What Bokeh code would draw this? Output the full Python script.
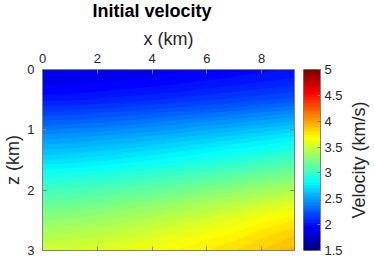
import numpy as np
from bokeh.plotting import figure
from bokeh.layouts import row
from bokeh.models import Range1d, LinearAxis, FixedTicker, LinearColorMapper, CustomJSTickFormatter
from bokeh.embed import file_html
from bokeh.resources import INLINE

# sample positions (km)
x_km = [0.0, 1.15, 2.3, 3.45, 4.6, 5.75, 6.9, 8.05, 9.2]
z_km = [0.0, 0.125, 0.25, 0.375, 0.5, 0.625, 0.75, 0.875, 1.0, 1.125, 1.25, 1.375, 1.5,
        1.625, 1.75, 1.875, 2.0, 2.125, 2.25, 2.375, 2.5, 2.625, 2.75, 2.875, 3.0]

# velocity (km/s) read down each x column (top to bottom)
vel_c0 = [1.87, 1.89, 1.93, 1.97, 2.03, 2.11, 2.20, 2.28, 2.37, 2.46, 2.54, 2.62, 2.70, 2.79, 2.88, 2.96, 3.03, 3.10, 3.17, 3.24, 3.30, 3.36, 3.41, 3.47, 3.52]
vel_c1 = [1.88, 1.90, 1.94, 1.98, 2.04, 2.12, 2.21, 2.30, 2.39, 2.48, 2.56, 2.64, 2.72, 2.81, 2.90, 2.98, 3.05, 3.12, 3.19, 3.26, 3.32, 3.38, 3.43, 3.49, 3.54]
vel_c2 = [1.89, 1.91, 1.95, 2.00, 2.06, 2.14, 2.24, 2.32, 2.41, 2.51, 2.59, 2.67, 2.75, 2.84, 2.93, 3.01, 3.09, 3.16, 3.23, 3.30, 3.36, 3.42, 3.47, 3.53, 3.58]
vel_c3 = [1.90, 1.93, 1.97, 2.02, 2.08, 2.17, 2.26, 2.35, 2.45, 2.54, 2.62, 2.71, 2.79, 2.88, 2.97, 3.05, 3.13, 3.20, 3.28, 3.35, 3.41, 3.47, 3.52, 3.58, 3.62]
vel_c4 = [1.92, 1.95, 1.99, 2.04, 2.11, 2.20, 2.30, 2.39, 2.48, 2.58, 2.67, 2.75, 2.83, 2.92, 3.01, 3.10, 3.17, 3.25, 3.33, 3.40, 3.47, 3.53, 3.58, 3.63, 3.68]
vel_c5 = [1.94, 1.97, 2.01, 2.07, 2.14, 2.23, 2.33, 2.43, 2.53, 2.62, 2.71, 2.80, 2.88, 2.97, 3.06, 3.15, 3.23, 3.31, 3.39, 3.46, 3.53, 3.59, 3.64, 3.69, 3.73]
vel_c6 = [1.96, 1.99, 2.04, 2.10, 2.17, 2.26, 2.37, 2.47, 2.57, 2.67, 2.76, 2.85, 2.93, 3.02, 3.11, 3.20, 3.28, 3.37, 3.45, 3.53, 3.59, 3.65, 3.70, 3.75, 3.79]
vel_c7 = [1.98, 2.02, 2.06, 2.13, 2.20, 2.30, 2.41, 2.51, 2.62, 2.72, 2.81, 2.90, 2.99, 3.08, 3.17, 3.26, 3.35, 3.43, 3.52, 3.60, 3.67, 3.73, 3.78, 3.82, 3.86]
vel_c8 = [2.00, 2.04, 2.09, 2.16, 2.24, 2.34, 2.45, 2.56, 2.67, 2.77, 2.87, 2.96, 3.05, 3.14, 3.23, 3.32, 3.41, 3.50, 3.59, 3.67, 3.74, 3.80, 3.85, 3.89, 3.93]

x_ticks = [0, 2, 4, 6, 8]
z_ticks = [0, 1, 2, 3]
cbar_ticks = [1.5, 2, 2.5, 3, 3.5, 4, 4.5, 5]
v_low, v_high = 1.5, 5.0
x_max, z_max = 9.2, 3.0
n_colors = 64

def jet(n):
    t = np.linspace(0, 1, n)
    r = np.clip(1.5 - np.abs(4 * t - 3), 0, 1)
    g = np.clip(1.5 - np.abs(4 * t - 2), 0, 1)
    b = np.clip(1.5 - np.abs(4 * t - 1), 0, 1)
    return ["#%02x%02x%02x" % (int(round(a * 255)), int(round(c * 255)), int(round(d * 255)))
            for a, c, d in zip(r, g, b)]

palette = jet(n_colors)
mapper = LinearColorMapper(palette=palette, low=v_low, high=v_high)
levels = np.linspace(v_low, v_high, n_colors + 1)

cols = [vel_c0, vel_c1, vel_c2, vel_c3, vel_c4, vel_c5, vel_c6, vel_c7, vel_c8]
grid = np.array(cols).T  # rows = z, cols = x
dx = x_km[1] - x_km[0]
dz = z_km[1] - z_km[0]

FONT = "Liberation Sans"
TXT = "#262626"
AX = "#808080"
SHIFT = 6            # blank strip above the title that is pulled off the top of the page
H = 263 + SHIFT
TOP = 69 + SHIFT

p = figure(width=300, height=H, x_range=Range1d(0, x_max), y_range=Range1d(z_max, 0),
           x_axis_location="above", output_backend="svg", toolbar_location=None,
           min_border_left=37, min_border_top=TOP, min_border_right=6, min_border_bottom=6,
           margin=(-SHIFT, 0, 0, 0))
# underlay (hides hairline seams), then filled colour bands of the field
p.image(image=[grid], x=x_km[0] - dx / 2, y=z_km[0] - dz / 2,
        dw=x_km[-1] - x_km[0] + dx, dh=z_km[-1] - z_km[0] + dz, color_mapper=mapper)
p.contour(x=x_km, y=z_km, z=grid, levels=levels, fill_color=palette, line_color=None)

p.title.text = "Initial velocity"
p.title.text_font = FONT
p.title.text_font_size = "18px"
p.title.text_font_style = "bold"
p.title.text_color = "#000000"
p.title.align = "left"
p.title.offset = 50
p.title.standoff = 9

p.grid.visible = False
p.outline_line_color = AX
p.background_fill_color = "white"

for ax, ticks, lab in ((p.xaxis[0], x_ticks, "x (km)"), (p.yaxis[0], z_ticks, "z (km)")):
    ax.ticker = FixedTicker(ticks=ticks)
    ax.axis_label = lab
    ax.axis_label_text_font = FONT
    ax.axis_label_text_font_size = "18px"
    ax.axis_label_text_font_style = "normal"
    ax.axis_label_text_color = TXT
    ax.major_label_text_font = FONT
    ax.major_label_text_font_size = "13px"
    ax.major_label_text_color = TXT
    ax.major_tick_in = 4
    ax.major_tick_out = 0
    ax.major_tick_line_color = AX
    ax.minor_tick_line_color = None
    ax.axis_line_color = AX
p.xaxis[0].axis_label_standoff = 2
p.xaxis[0].major_label_standoff = 7
p.yaxis[0].axis_label_standoff = 1
p.yaxis[0].major_label_standoff = 8

blank = CustomJSTickFormatter(code="return ''")
p.add_layout(LinearAxis(ticker=FixedTicker(ticks=x_ticks), formatter=blank, major_tick_in=4,
                        major_tick_out=0, major_label_standoff=0, minor_tick_line_color=None,
                        axis_line_color=AX, major_tick_line_color=AX), "below")
p.add_layout(LinearAxis(ticker=FixedTicker(ticks=z_ticks), formatter=blank, major_tick_in=4,
                        major_tick_out=0, major_label_standoff=0, minor_tick_line_color=None,
                        axis_line_color=AX, major_tick_line_color=AX), "right")

# colour bar as its own small figure
cb = figure(width=45, height=H, x_range=Range1d(0, 1), y_range=Range1d(v_low, v_high),
            y_axis_location="right", output_backend="svg", toolbar_location=None,
            min_border_left=3, min_border_top=TOP, min_border_right=23, min_border_bottom=6,
            margin=(-SHIFT, 0, 0, 0))
cb.image(image=[np.linspace(v_low, v_high, 256).reshape(-1, 1)], x=0, y=v_low, dw=1,
         dh=v_high - v_low, color_mapper=mapper)
cb.xaxis.visible = False
cb.grid.visible = False
cb.outline_line_color = AX
ya = cb.yaxis[0]
ya.ticker = FixedTicker(ticks=cbar_ticks)
ya.major_label_text_font = FONT
ya.major_label_text_font_size = "13px"
ya.major_label_text_color = TXT
ya.major_label_standoff = 4
ya.major_tick_in = 3
ya.major_tick_out = 0
ya.major_tick_line_color = AX
ya.minor_tick_line_color = None
ya.axis_line_color = AX

# colour-bar title, read bottom to top (left-axis label of a blank strip)
lab = figure(width=28, height=H, x_range=Range1d(0, 1), y_range=Range1d(v_low, v_high),
             output_backend="svg", toolbar_location=None,
             min_border_left=0, min_border_top=63 + SHIFT, min_border_right=0, min_border_bottom=13,
             margin=(-SHIFT, 0, 0, 0))
lab.xaxis.visible = False
lab.grid.visible = False
lab.outline_line_color = None
la = lab.yaxis[0]
la.ticker = FixedTicker(ticks=[])
la.axis_line_color = None
la.major_tick_line_color = None
la.minor_tick_line_color = None
la.axis_label = "Velocity (km/s)"
la.axis_label_text_font = FONT
la.axis_label_text_font_size = "18px"
la.axis_label_text_font_style = "normal"
la.axis_label_text_color = TXT
la.axis_label_standoff = 0
la.major_label_standoff = 0

layout = row(p, cb, lab)
open("out.html", "w").write(file_html(layout, INLINE))
